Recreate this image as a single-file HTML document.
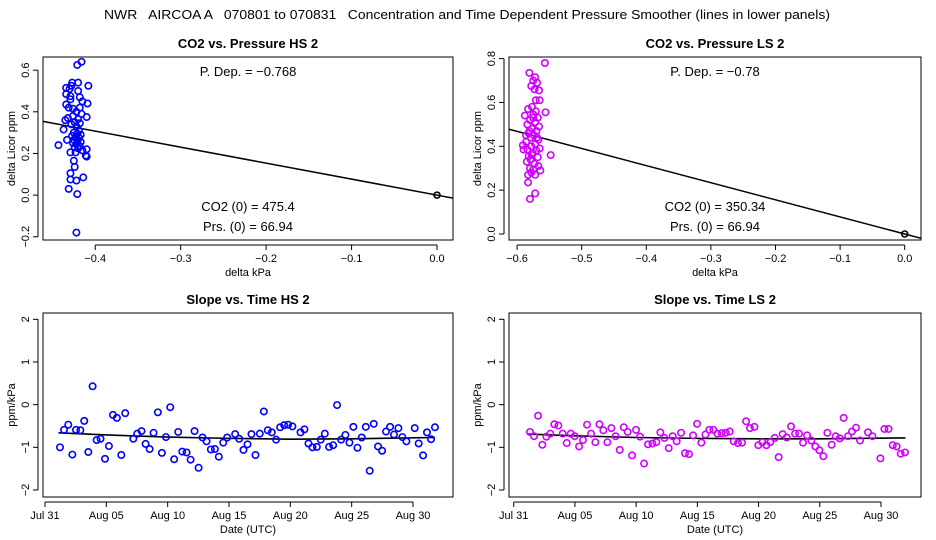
<!DOCTYPE html>
<html><head><meta charset="utf-8"><style>
html,body{margin:0;padding:0;background:#fff;}
svg{display:block;font-family:"Liberation Sans",Helvetica,Arial,sans-serif;}
</style></head><body>
<svg id="chart" width="936" height="540" viewBox="0 0 936 540" xmlns="http://www.w3.org/2000/svg">
<rect width="936" height="540" fill="#fff"/>
<text x="467" y="19" font-size="13" text-anchor="middle" textLength="726" lengthAdjust="spacingAndGlyphs" style="white-space:pre" xml:space="preserve">NWR   AIRCOA A   070801 to 070831   Concentration and Time Dependent Pressure Smoother (lines in lower panels)</text>
</svg>
<script>
// ---- Data: HS scatter
const hsX = [-0.416,-0.421,-0.427,-0.420,-0.408,-0.434,-0.430,-0.428,-0.420,-0.434,-0.429,-0.418,-0.429,-0.415,-0.409,-0.434,-0.431,-0.426,-0.418,-0.422,-0.416,-0.426,-0.410,-0.432,-0.420,-0.435,-0.424,-0.418,-0.428,-0.422,-0.437,-0.419,-0.425,-0.421,-0.417,-0.427,-0.423,-0.419,-0.433,-0.425,-0.421,-0.417,-0.426,-0.422,-0.443,-0.418,-0.424,-0.420,-0.410,-0.415,-0.429,-0.423,-0.411,-0.410,-0.425,-0.424,-0.429,-0.414,-0.429,-0.422,-0.431,-0.421,-0.422];
const hsY = [0.64,0.625,0.54,0.54,0.525,0.515,0.51,0.525,0.50,0.485,0.475,0.47,0.46,0.45,0.44,0.435,0.42,0.415,0.42,0.40,0.39,0.38,0.375,0.37,0.365,0.36,0.35,0.345,0.34,0.33,0.315,0.31,0.30,0.295,0.29,0.285,0.28,0.275,0.265,0.265,0.26,0.255,0.25,0.245,0.24,0.235,0.23,0.225,0.22,0.215,0.205,0.205,0.19,0.185,0.165,0.135,0.105,0.085,0.075,0.07,0.03,0.005,-0.18];
const hsSlope = -0.768;
// ---- Data: LS scatter
const lsX = [-0.557,-0.581,-0.572,-0.575,-0.569,-0.578,-0.566,-0.573,-0.565,-0.571,-0.577,-0.583,-0.556,-0.588,-0.575,-0.568,-0.580,-0.572,-0.584,-0.566,-0.577,-0.570,-0.582,-0.574,-0.579,-0.567,-0.586,-0.572,-0.591,-0.578,-0.565,-0.584,-0.570,-0.590,-0.576,-0.548,-0.582,-0.568,-0.579,-0.585,-0.573,-0.567,-0.580,-0.575,-0.564,-0.578,-0.583,-0.572,-0.583,-0.572,-0.580,-0.575,-0.581,-0.569,-0.577,-0.586,-0.571];
const lsY = [0.78,0.735,0.715,0.70,0.69,0.675,0.655,0.66,0.61,0.61,0.58,0.57,0.555,0.54,0.545,0.53,0.52,0.51,0.50,0.49,0.48,0.47,0.46,0.45,0.44,0.43,0.42,0.41,0.405,0.40,0.39,0.385,0.38,0.385,0.37,0.36,0.355,0.35,0.34,0.33,0.32,0.31,0.30,0.295,0.29,0.28,0.27,0.27,0.235,0.185,0.16,0.53,0.47,0.44,0.36,0.45,0.56];
const lsSlope = -0.78;
// ---- Data: HS time series (days since Jul 31 00:00)
const hsDays = [1.22,1.55,1.90,2.23,2.53,2.88,3.20,3.53,3.88,4.21,4.53,4.89,5.21,5.54,5.86,6.22,6.54,7.20,7.52,7.87,8.20,8.53,8.85,9.20,9.53,9.86,10.21,10.53,10.86,11.19,11.54,11.87,12.19,12.52,12.84,13.17,13.52,13.85,14.17,14.53,14.85,15.50,15.83,16.18,16.51,16.83,17.16,17.51,17.84,18.16,18.49,18.84,19.17,19.50,19.82,20.17,20.83,21.15,21.48,21.80,22.16,22.48,22.81,23.16,23.49,23.81,24.14,24.49,24.82,25.14,25.47,25.82,26.15,26.47,26.80,27.15,27.48,27.80,28.13,28.45,28.81,29.13,29.46,30.14,30.46,30.82,31.14,31.47,31.79];
const hsSlopes = [-1.0,-0.59,-0.47,-1.17,-0.59,-0.60,-0.38,-1.11,0.43,-0.83,-0.80,-1.27,-0.97,-0.24,-0.31,-1.18,-0.20,-0.80,-0.68,-0.62,-0.92,-1.04,-0.66,-0.18,-1.13,-0.76,-0.06,-1.28,-0.64,-1.10,-1.12,-1.29,-0.62,-1.48,-0.77,-0.86,-1.05,-1.04,-1.22,-0.89,-0.77,-0.69,-0.80,-1.06,-0.93,-0.69,-1.18,-0.68,-0.16,-0.60,-0.65,-0.82,-0.53,-0.48,-0.47,-0.51,-0.65,-0.58,-0.91,-1.00,-0.99,-0.82,-0.68,-0.99,-0.95,-0.01,-0.82,-0.71,-0.89,-0.52,-1.01,-0.77,-0.52,-1.55,-0.45,-0.98,-1.08,-0.63,-0.52,-0.70,-0.55,-0.76,-0.86,-0.55,-0.91,-1.19,-0.65,-0.81,-0.53];
const hsSmoothDays = [1.1,5,10,15,20,25,31.8];
const hsSmoothVals = [-0.66,-0.71,-0.76,-0.79,-0.81,-0.80,-0.77];
// ---- Data: LS time series
const lsDays = [1.33,1.66,1.99,2.34,2.67,2.99,3.32,3.65,4.00,4.33,4.66,4.98,5.34,5.66,5.99,6.32,6.67,7.00,7.32,7.65,7.98,8.33,8.66,8.99,9.31,9.67,9.99,10.32,10.65,10.97,11.33,11.65,11.98,12.31,12.66,12.99,13.31,13.67,13.99,14.32,14.65,14.97,15.33,15.66,15.98,16.31,16.64,16.99,17.32,17.64,17.97,18.32,18.65,18.98,19.30,19.66,19.98,20.31,20.64,20.96,21.32,21.64,21.97,22.30,22.65,22.98,23.31,23.63,23.96,24.31,24.64,24.97,25.29,25.62,25.97,26.30,26.63,26.95,27.31,27.63,27.96,28.29,28.94,29.30,29.95,30.28,30.62,30.96,31.28,31.61,31.96];
const lsSlopes = [-0.64,-0.74,-0.26,-0.94,-0.75,-0.68,-0.46,-0.49,-0.68,-0.90,-0.68,-0.74,-0.98,-0.83,-0.47,-0.68,-0.88,-0.46,-0.60,-0.88,-0.55,-0.74,-1.06,-0.53,-0.64,-1.19,-0.59,-0.75,-1.38,-0.93,-0.91,-0.88,-0.65,-0.78,-1.02,-0.74,-0.86,-0.66,-1.14,-1.16,-0.72,-0.45,-0.89,-0.70,-0.59,-0.59,-0.68,-0.67,-0.66,-0.63,-0.86,-0.90,-0.89,-0.39,-0.55,-0.52,-0.95,-0.88,-0.95,-0.88,-0.78,-1.23,-0.69,-0.77,-0.51,-0.68,-0.68,-0.89,-0.72,-0.84,-0.98,-1.07,-1.21,-0.66,-0.94,-0.74,-0.79,-0.31,-0.74,-0.63,-0.54,-0.84,-0.65,-0.74,-1.26,-0.57,-0.57,-0.95,-0.98,-1.15,-1.12];
const lsSmoothDays = [1.1,5,10,15,20,25,32];
const lsSmoothVals = [-0.69,-0.73,-0.77,-0.79,-0.80,-0.80,-0.78];
// tick labels
const hsXTicks = [-0.4,-0.3,-0.2,-0.1,0.0];
const hsYTicks = [-0.2,0.0,0.2,0.4,0.6];
const lsXTicks = [-0.6,-0.5,-0.4,-0.3,-0.2,-0.1,0.0];
const lsYTicks = [0.0,0.2,0.4,0.6,0.8];
const slopeTicks = [-2,-1,0,1,2];
const dateTicks = [0,5,10,15,20,25,30];
const dateLabels = ["Jul 31","Aug 05","Aug 10","Aug 15","Aug 20","Aug 25","Aug 30"];

const NS = "http://www.w3.org/2000/svg";
const svg = document.getElementById('chart');
function mk(tag, attrs, parent){
  const e = document.createElementNS(NS, tag);
  for (const k in attrs) e.setAttribute(k, attrs[k]);
  (parent||svg).appendChild(e);
  return e;
}
function lin(d0,d1,p0,p1){ return v => p0 + (v-d0)*(p1-p0)/(d1-d0); }
function fmt(v,dec){ return v.toFixed(dec).replace('-','\u2212'); }

function frame(g, box, title, ylab, xlab){
  const r = mk('rect',{x:box.l,y:box.t,width:box.r-box.l,height:box.b-box.t,fill:'none',stroke:'#000','stroke-width':1},g);
  
  
  const t = mk('text',{x:(box.l+box.r)/2,y:box.t-9,'font-size':13,'font-weight':'bold','text-anchor':'middle'},g);
  t.textContent = title;
  
  
  const yl = mk('text',{x:0,y:0,'font-size':11,'text-anchor':'middle',transform:`translate(${box.l-28},${(box.t+box.b)/2}) rotate(-90)`},g);
  yl.textContent = ylab;
  
  
  const xl = mk('text',{x:(box.l+box.r)/2,y:box.b+36,'font-size':11,'text-anchor':'middle'},g);
  xl.textContent = xlab;
  
  
}
function yAxis(g, box, sy, ticks, labels){
  const ax = mk('line',{x1:box.l-5,x2:box.l-5,y1:sy(ticks[0]),y2:sy(ticks[ticks.length-1]),stroke:'#000'},g);
  
  
  ticks.forEach((v,i)=>{
    const y = sy(v);
    mk('line',{x1:box.l-10,x2:box.l-5,y1:y,y2:y,stroke:'#000'},g);
    const t = mk('text',{x:0,y:0,'font-size':11,'text-anchor':'middle',transform:`translate(${box.l-14},${y}) rotate(-90)`},g);
    t.textContent = labels[i];
    
    
  });
}
function xAxis(g, box, sx, ticks, labels){
  const ax = mk('line',{x1:sx(ticks[0]),x2:sx(ticks[ticks.length-1]),y1:box.b+5,y2:box.b+5,stroke:'#000'},g);
  
  
  ticks.forEach((v,i)=>{
    const x = sx(v);
    mk('line',{x1:x,x2:x,y1:box.b+5,y2:box.b+10,stroke:'#000'},g);
    const t = mk('text',{x:x,y:box.b+22,'font-size':11,'text-anchor':'middle'},g);
    t.textContent = labels[i];
    
    
  });
}
function clip(id, box){
  const c = mk('clipPath',{id:id});
  mk('rect',{x:box.l,y:box.t,width:box.r-box.l,height:box.b-box.t},c);
}
function scatterPanel(name, box, xd, yd, xs, ys, slope, xt, yt, col, title, pdep, co2, prs){
  const g = mk('g',{});
  
  
  const sx = lin(xd[0],xd[1],box.l,box.r), sy = lin(yd[0],yd[1],box.b,box.t);
  frame(g, box, title, 'delta Licor ppm', 'delta kPa');
  yAxis(g, box, sy, yt, yt.map(v=>fmt(v,1)));
  xAxis(g, box, sx, xt, xt.map(v=>fmt(v,1)));
  clip(name+'-clip', box);
  const pg = mk('g',{'clip-path':`url(#${name}-clip)`},g);
  const ln = mk('line',{x1:sx(xd[0]),y1:sy(slope*xd[0]),x2:sx(xd[1]),y2:sy(slope*xd[1]),stroke:'#000','stroke-width':1.5},pg);
  
  
  xs.forEach((x,i)=>{
    const c = mk('circle',{cx:sx(x),cy:sy(ys[i]),r:3.2,fill:'none',stroke:col,'stroke-width':1.6},pg);
    
    
  });
  const o = mk('circle',{cx:sx(0),cy:sy(0),r:3,fill:'none',stroke:'#000','stroke-width':1.6},pg);
  
  
  const cx = (box.l+box.r)/2;
  [[pdep,76,'p-dep-label'],[co2,211,'co2-zero-label'],[prs,231,'prs-zero-label']].forEach(a=>{
    const t = mk('text',{x:cx,y:a[1],'font-size':13,'text-anchor':'middle'},g);
    t.textContent = a[0];
    
    
  });
}
function timePanel(name, box, x0px, x30px, days, vals, sDays, sVals, col, title){
  const g = mk('g',{});
  
  
  const sx = lin(0,30,x0px,x30px), sy = lin(-2,2,490,319.3);
  frame(g, box, title, 'ppm/kPa', 'Date (UTC)');
  yAxis(g, box, sy, slopeTicks, slopeTicks.map(v=>fmt(v,0)));
  xAxis(g, box, sx, dateTicks, dateLabels);
  const pts = sDays.map((d,i)=>sx(d)+','+sy(sVals[i])).join(' ');
  const pl = mk('polyline',{points:pts,fill:'none',stroke:'#000','stroke-width':1.6},g);
  
  
  days.forEach((d,i)=>{
    const c = mk('circle',{cx:sx(d),cy:sy(vals[i]),r:3.2,fill:'none',stroke:col,'stroke-width':1.6},g);
    
    
  });
}
scatterPanel('hs-pressure-panel',{l:43,r:453,t:57,b:240},[-0.4611,0.0187],[-0.2155,0.6632],hsX,hsY,hsSlope,hsXTicks,hsYTicks,'#0000ff','CO2 vs. Pressure HS 2','P. Dep. =  \u22120.768','CO2 (0) =  475.4','Prs. (0) =  66.94');
scatterPanel('ls-pressure-panel',{l:509,r:921,t:57,b:240},[-0.6125,0.0252],[-0.0274,0.8073],lsX,lsY,lsSlope,lsXTicks,lsYTicks,'#d000ff','CO2 vs. Pressure LS 2','P. Dep. =  \u22120.78','CO2 (0) =  350.34','Prs. (0) =  66.94');
timePanel('hs-slope-panel',{l:43,r:453,t:313,b:497},45,413,hsDays,hsSlopes,hsSmoothDays,hsSmoothVals,'#0000ff','Slope vs. Time HS 2');
timePanel('ls-slope-panel',{l:509,r:921,t:313,b:497},513.7,881,lsDays,lsSlopes,lsSmoothDays,lsSmoothVals,'#d000ff','Slope vs. Time LS 2');
</script>
</body></html>
